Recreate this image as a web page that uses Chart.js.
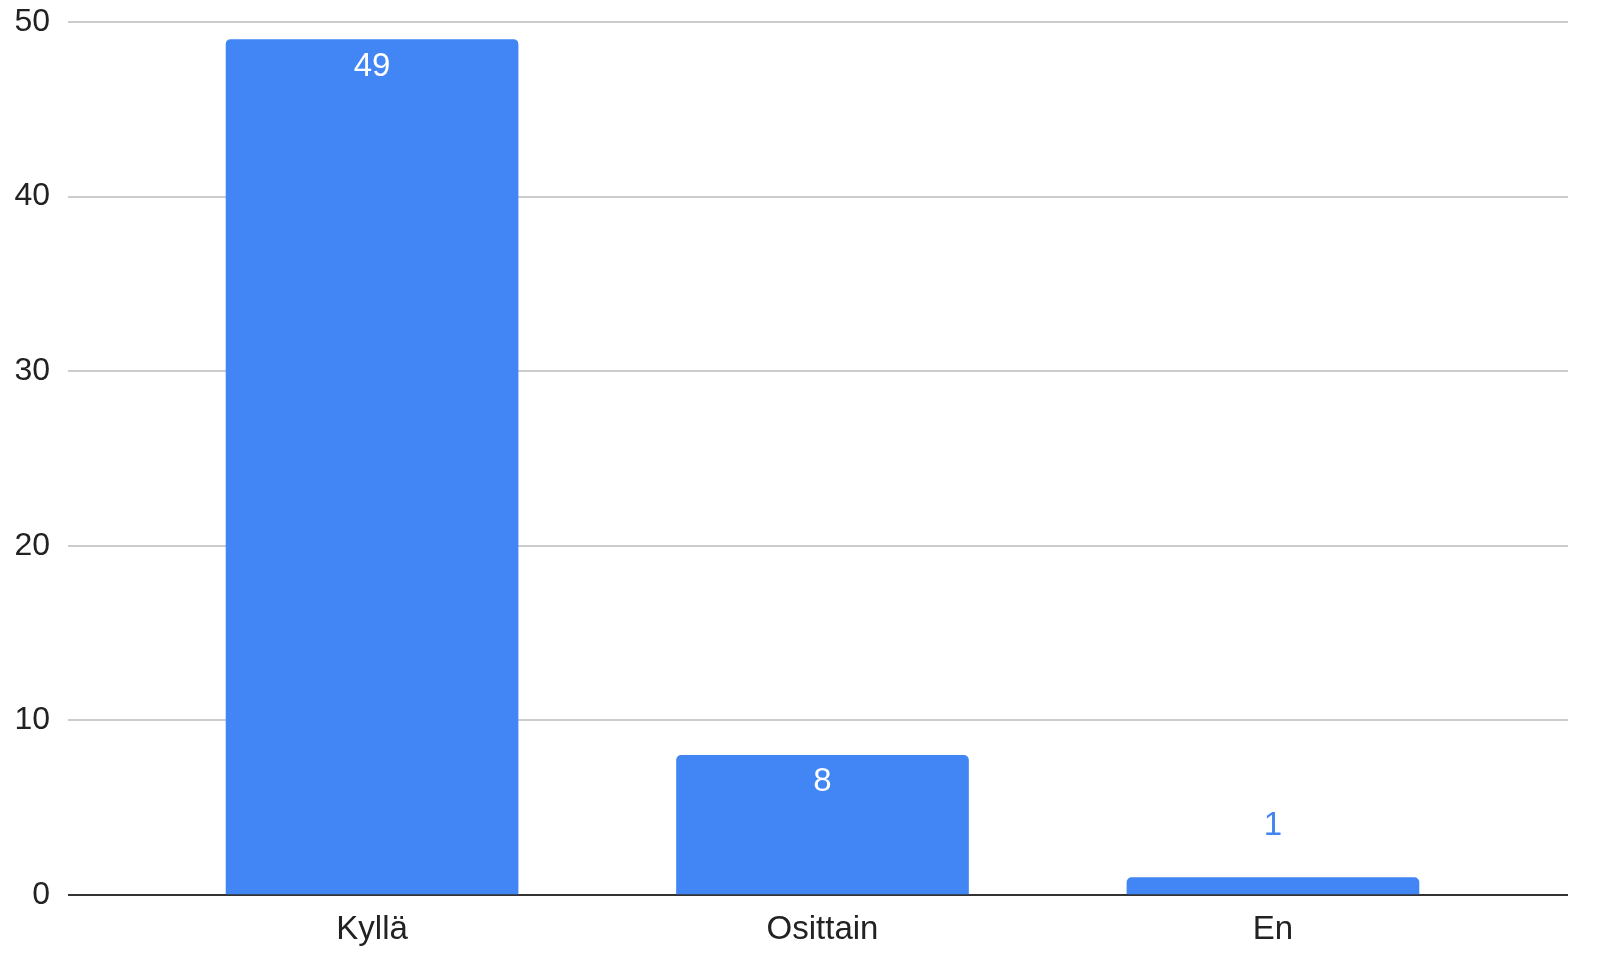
<!DOCTYPE html>
<html>
<head>
<meta charset="utf-8">
<script src="https://cdn.jsdelivr.net/npm/chart.js@4.4.1/dist/chart.umd.min.js"></script>
<style>
  html, body { margin: 0; padding: 0; background: #fff; }
  #wrap { width: 1612px; height: 976px; }
</style>
</head>
<body>
<div id="wrap"><canvas id="myChart" width="1612" height="976"></canvas></div>
<script>
// data
const categories = ["Kyllä", "Osittain", "En"];
const values = [49, 8, 1];
const yTicks = [0, 10, 20, 30, 40, 50];

const barColor = '#4285f4';
const fontFamily = '"Liberation Sans", Arial, sans-serif';

// label nilai di atas / di dalam batang
const valueLabels = {
  id: 'valueLabels',
  afterDatasetsDraw(chart) {
    const ctx = chart.ctx;
    const meta = chart.getDatasetMeta(0);
    ctx.save();
    ctx.font = '33px ' + fontFamily;
    ctx.textAlign = 'center';
    ctx.textBaseline = 'middle';
    meta.data.forEach((bar, i) => {
      const h = bar.base - bar.y;
      if (h > 60) {
        ctx.fillStyle = '#ffffff';
        ctx.fillText(String(values[i]), bar.x, bar.y + 27);
      } else {
        ctx.fillStyle = barColor;
        ctx.fillText(String(values[i]), bar.x, bar.y - 52);
      }
    });
    ctx.restore();
  }
};

const ctx = document.getElementById('myChart');
const chart = new Chart(ctx, {
  type: 'bar',
  data: {
    datasets: [{
      data: values.map((v, i) => ({ x: i, y: v })),
      backgroundColor: barColor,
      borderRadius: 5,
      barThickness: 292,
    }]
  },
  options: {
    responsive: false,
    animation: false,
    layout: { padding: { top: 22, right: 44, bottom: 0, left: 0 } },
    plugins: {
      legend: { display: false },
      tooltip: { enabled: false },
    },
    scales: {
      x: {
        type: 'linear',
        offset: false,
        min: -0.675,
        max: 2.655,
        afterBuildTicks: (axis) => { axis.ticks = categories.map((c, i) => ({ value: i })); },
        afterFit: (axis) => { axis.height = 81; },
        grid: { display: false, offset: false },
        border: { display: false },
        ticks: {
          autoSkip: false,
          maxRotation: 0,
          padding: 7,
          color: '#222',
          font: { family: fontFamily, size: 33 },
          callback: (v) => categories[v] !== undefined ? categories[v] : '',
        },
      },
      y: {
        min: 0,
        max: 50,
        afterBuildTicks: (axis) => { axis.ticks = yTicks.map(v => ({ value: v })); },
        afterFit: (axis) => { axis.width = 68; },
        border: { display: false },
        grid: {
          drawTicks: false,
          lineWidth: 2,
          color: (c) => c.tick && c.tick.value === 0 ? '#333333' : '#cccccc',
        },
        ticks: {
          padding: 18,
          color: '#222',
          // lineHeight kecil supaya label atas tidak menambah ruang di atas
          font: { family: fontFamily, size: 32, lineHeight: 0.2 },
        },
      },
    },
  },
  plugins: [valueLabels]
});
</script>
</body>
</html>
